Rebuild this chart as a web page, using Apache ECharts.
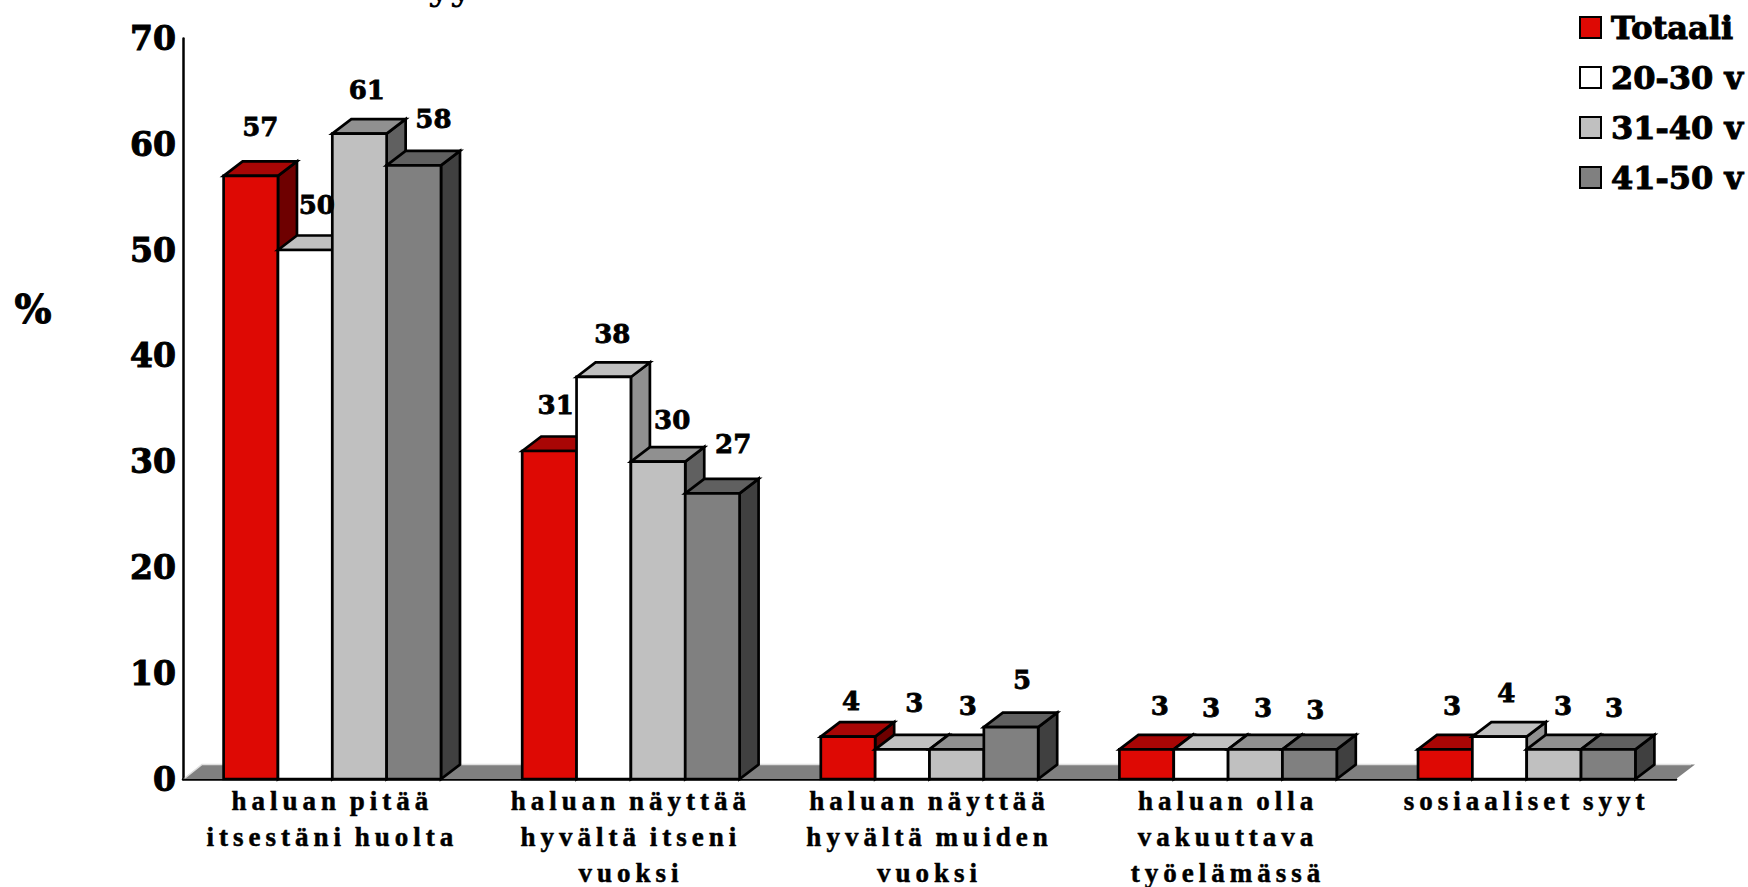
<!DOCTYPE html>
<html><head><meta charset="utf-8">
<style>
html,body{margin:0;padding:0;background:#fff}
#c{width:1748px;height:887px}
svg text[style*="Liberation Serif"]{letter-spacing:5px;word-spacing:-3px}
</style>
<script src="https://cdn.jsdelivr.net/npm/echarts@6/dist/echarts.min.js"></script>
</head><body><div id="c"></div>
<script>
const categories = ['haluan pitää\nitsestäni huolta','haluan näyttää\nhyvältä itseni\nvuoksi','haluan näyttää\nhyvältä muiden\nvuoksi','haluan olla\nvakuuttava\ntyöelämässä','sosiaaliset syyt'];
const totaali = [57, 31, 4, 2.8, 2.8];
const v2030 = [50, 38, 2.8, 2.8, 4];
const v3140 = [61, 30, 2.8, 2.8, 2.8];
const v4150 = [58, 27, 4.9, 2.8, 2.8];
const yTicks = [0,10,20,30,40,50,60,70];

// hand-placed data label nudges, relative to each bar's front top centre
const nudgeTotaali = [[9.5,-48.7],[6.3,-46.3],[3.1,-35.5],[13.3,-41.6],[6.8,-41.6]];
const nudge2030 = [[11.7,-45],[8.5,-42.6],[12,-43.9],[10,-39.4],[6.8,-43.3]];
const nudge3140 = [[7.3,-43.3],[14.1,-41.3],[11,-41.6],[7.8,-39.4],[9.1,-41.6]];
const nudge4150 = [[19.6,-46],[20.8,-49.6],[11,-46.1],[5.6,-37.2],[5.8,-39.4]];

const DX = 19, DY = 14.5, BAR = 0.182, LW = 2.7;
const SERIF = '"DejaVu Serif"';

const defs = [
  {name:'Totaali', vals:totaali, nudge:nudgeTotaali, front:'#DE0904', top:'#A80605', side:'#6E0000'},
  {name:'20-30 v', vals:v2030, nudge:nudge2030, front:'#FFFFFF', top:'#C0C0C0', side:'#909090'},
  {name:'31-40 v', vals:v3140, nudge:nudge3140, front:'#C0C0C0', top:'#909090', side:'#606060'},
  {name:'41-50 v', vals:v4150, nudge:nudge4150, front:'#808080', top:'#606060', side:'#404040'}
];

function barRender(d, s){
  return function(params, api){
    const idx = api.value(0), p = api.coord([idx, api.value(1)]), b = api.coord([idx, 0]);
    const w = api.size([1,0])[0]*BAR, x0 = p[0]+(s-2)*w, x1 = x0+w, y0 = p[1], y1 = b[1];
    const st = c => ({fill:c, stroke:'#000', lineWidth:LW, lineJoin:'miter'});
    return {type:'group', children:[
      {type:'polygon', shape:{points:[[x1,y0],[x1+DX,y0-DY],[x1+DX,y1-DY],[x1,y1]]}, style:st(d.side)},
      {type:'polygon', shape:{points:[[x0,y0],[x0+DX,y0-DY],[x1+DX,y0-DY],[x1,y0]]}, style:st(d.top)},
      {type:'polygon', shape:{points:[[x0,y0],[x1,y0],[x1,y1],[x0,y1]]}, style:st(d.front)}
    ]};
  };
}
function labelRender(d, s){
  return function(params, api){
    const idx = api.value(0), rounded = Math.round(api.value(1));
    const p = api.coord([idx, rounded]), w = api.size([1,0])[0]*BAR, n = d.nudge[idx];
    return {type:'text', style:{x:p[0]+(s-1.5)*w+n[0], y:p[1]+n[1], text:String(rounded), align:'center', verticalAlign:'middle',
      fill:'#000', stroke:'#000', lineWidth:0.8, font:'bold 26px '+SERIF}};
  };
}
function floorRender(params, api){
  const c = params.coordSys, l = c.x, r = c.x+c.width, y = c.y+c.height;
  return {type:'group', children:[
    {type:'polygon', shape:{points:[[l,y],[r,y],[r+DX,y-DY],[l+DX,y-DY]]}, style:{fill:'#808080'}},
    {type:'polyline', shape:{points:[[l+2,y-1],[l+DX,y-DY],[r+DX-4,y-DY]]}, style:{fill:null, stroke:'#E0E0E0', lineWidth:1.5}}
  ]};
}

const series = [{type:'custom', name:'floor', z:1, silent:true, renderItem:floorRender, data:[[0,0]], encode:{x:0,y:1}}];
defs.forEach((d,s)=>{
  const data = d.vals.map((v,i)=>[i,v]);
  series.push({type:'custom', name:d.name, z:2, renderItem:barRender(d,s), data, encode:{x:0,y:1},
    itemStyle:{color:d.front, borderColor:'#000', borderWidth:2.5}});
});
defs.forEach((d,s)=>{
  const data = d.vals.map((v,i)=>[i,v]);
  series.push({type:'custom', name:d.name+' labels', z:3, silent:true, renderItem:labelRender(d,s), data, encode:{x:0,y:1}});
});

const chart = echarts.init(document.getElementById('c'), null, {renderer:'svg', width:1748, height:887});
chart.setOption({
  animation:false,
  backgroundColor:'#fff',
  grid:{left:183, right:72, top:38.4, bottom:108, containLabel:false, outerBoundsMode:'none'},
  legend:{orient:'vertical', left:1574, top:6, data:defs.map(d=>d.name), icon:'rect', itemWidth:21, itemHeight:21, itemGap:17,
    textStyle:{fontFamily:SERIF, fontWeight:'bold', fontSize:32, color:'#000', padding:[0,0,0,5], textBorderColor:'#000', textBorderWidth:1}, selectedMode:false},
  xAxis:{type:'category', data:categories, axisTick:{show:false},
    axisLine:{lineStyle:{color:'#000', width:2.5}},
    axisLabel:{interval:0, margin:4, lineHeight:36, color:'#000', fontFamily:'"Liberation Serif"', fontWeight:'bold', fontSize:27, textBorderColor:'#000', textBorderWidth:0.5}},
  yAxis:{type:'value', min:yTicks[0], max:yTicks[yTicks.length-1], interval:10, splitLine:{show:false}, axisTick:{show:false},
    axisLine:{show:true, lineStyle:{color:'#000', width:2.5}},
    axisLabel:{margin:7, color:'#000', fontFamily:SERIF, fontWeight:'bold', fontSize:33, textBorderColor:'#000', textBorderWidth:1}},
  graphic:[
    {type:'text', left:14, top:289, style:{text:'%', fill:'#000', stroke:'#000', lineWidth:1, font:'bold 39px '+SERIF}},
    {type:'text', x:428, y:-34, style:{text:'yy', fill:'#000', font:'bold 38px '+SERIF}}
  ],
  series
});
</script></body></html>
